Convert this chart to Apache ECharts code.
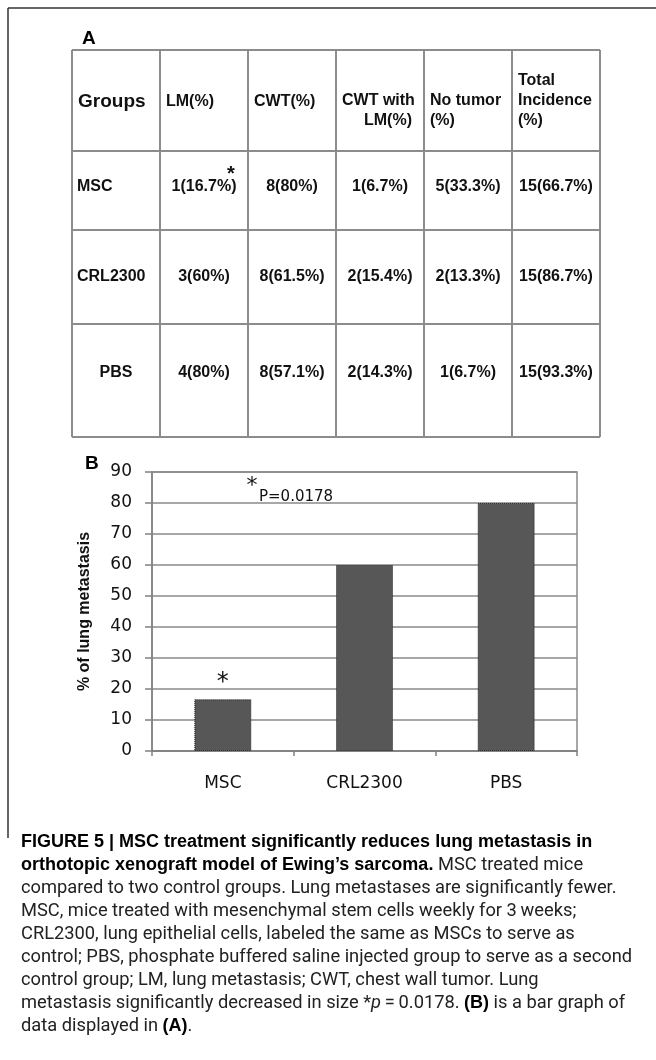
<!DOCTYPE html>
<html>
<head>
<meta charset="utf-8">
<script src="https://cdn.jsdelivr.net/npm/echarts@6/dist/echarts.min.js"></script>
<style>
html,body{margin:0;padding:0;background:#fff;}
#chart{width:656px;height:1060px;}
</style>
</head>
<body>
<div id="chart"></div>
<script>
// ---------- DATA ----------
const tableHeaders = [['Groups'], ['LM(%)'], ['CWT(%)'], ['CWT with', 'LM(%)'], ['No tumor', '(%)'], ['Total', 'Incidence', '(%)']];
const groups = ['MSC', 'CRL2300', 'PBS'];
const lmCol = ['1(16.7%)', '3(60%)', '4(80%)'];
const cwtCol = ['8(80%)', '8(61.5%)', '8(57.1%)'];
const cwtWithLmCol = ['1(6.7%)', '2(15.4%)', '2(14.3%)'];
const noTumorCol = ['5(33.3%)', '2(13.3%)', '1(6.7%)'];
const totalIncidenceCol = ['15(66.7%)', '15(86.7%)', '15(93.3%)'];
const lungMetastasisPct = [16.7, 60, 80];
const yAxisTitle = '% of lung metastasis';
const pValueText = 'P=0.0178';
const captionLines = [
  '{b|FIGURE 5 | MSC treatment significantly reduces lung metastasis in}',
  '{b|orthotopic xenograft model of Ewing\u2019s sarcoma.} MSC treated mice',
  'compared to two control groups. Lung metastases are significantly fewer.',
  'MSC, mice treated with mesenchymal stem cells weekly for 3\u2009weeks;',
  'CRL2300, lung epithelial cells, labeled the same as MSCs to serve as',
  'control; PBS, phosphate buffered saline injected group to serve as a second',
  'control group; LM, lung metastasis; CWT, chest wall tumor. Lung',
  'metastasis significantly decreased in size *{i|p}\u2009=\u20090.0178. {b|(B)} is a bar graph of',
  'data displayed in {b|(A)}.'
];

// ---------- LAYOUT ----------
const colX = [72, 160, 248, 336, 424, 512, 600];
const rowY = [50, 151, 230, 324, 437];
const headerLineY = {1: [102], 2: [101, 121], 3: [81, 101, 121]};
const rowTextY = [187, 277, 373];
const tableFont = 'bold 16px "Liberation Sans", Arial, sans-serif';
const lineColor = '#8c8c8c';

const graphics = [];
// outer frame
graphics.push({type: 'line', shape: {x1: 8, y1: 8, x2: 656, y2: 8}, style: {stroke: '#333', lineWidth: 1.5}});
graphics.push({type: 'line', shape: {x1: 8, y1: 8, x2: 8, y2: 838}, style: {stroke: '#333', lineWidth: 1.5}});
// panel letters
graphics.push({type: 'text', x: 82, y: 29, style: {text: 'A', font: 'bold 19px "Liberation Sans", Arial', fill: '#000'}});
graphics.push({type: 'text', x: 85, y: 454, style: {text: 'B', font: 'bold 19px "Liberation Sans", Arial', fill: '#000'}});
// table grid
colX.forEach(x => graphics.push({type: 'line', shape: {x1: x, y1: rowY[0], x2: x, y2: rowY[rowY.length - 1]}, style: {stroke: lineColor, lineWidth: 2}}));
rowY.forEach(y => graphics.push({type: 'line', shape: {x1: colX[0], y1: y, x2: colX[colX.length - 1], y2: y}, style: {stroke: lineColor, lineWidth: 2}}));
// header
tableHeaders.forEach((lines, c) => {
  const ys = headerLineY[lines.length];
  lines.forEach((t, k) => {
    let x = colX[c] + 6;
    if (c === 3 && k === 1) x = 364;
    graphics.push({type: 'text', x: x, y: ys[k], style: {text: t, font: c === 0 ? 'bold 19px "Liberation Sans", Arial' : tableFont, fill: '#111', verticalAlign: 'middle', align: 'left'}});
  });
});
// body
const bodyCols = [lmCol, cwtCol, cwtWithLmCol, noTumorCol, totalIncidenceCol];
groups.forEach((g, r) => {
  const centered = (g === 'PBS');
  graphics.push({type: 'text', x: centered ? (colX[0] + colX[1]) / 2 : colX[0] + 5, y: rowTextY[r],
    style: {text: g, font: tableFont, fill: '#111', verticalAlign: 'middle', align: centered ? 'center' : 'left'}});
  bodyCols.forEach((col, c) => {
    graphics.push({type: 'text', x: (colX[c + 1] + colX[c + 2]) / 2, y: rowTextY[r],
      style: {text: col[r], font: tableFont, fill: '#111', verticalAlign: 'middle', align: 'center'}});
  });
});
// significance asterisk in table
graphics.push({type: 'text', x: 231, y: 174, style: {text: '*', font: 'bold 20px "Liberation Sans", Arial', fill: '#111', align: 'center', verticalAlign: 'middle'}});
// p-value annotation
graphics.push({type: 'text', x: 252, y: 486, style: {text: '*', font: '22px "DejaVu Sans"', fill: '#111', align: 'center', verticalAlign: 'middle'}});
graphics.push({type: 'text', x: 259, y: 497, style: {text: pValueText, font: '15px "DejaVu Sans"', fill: '#111', align: 'left', verticalAlign: 'middle'}});
// caption
graphics.push({type: 'text', x: 21, y: 831, style: {
  text: captionLines.join('\n'),
  font: '18.3px Roboto', fill: '#222', lineHeight: 23,
  rich: {
    b: {fontWeight: 'bold', fill: '#000', fontSize: 18, fontFamily: 'Liberation Sans', lineHeight: 23},
    i: {fontStyle: 'italic', fill: '#222', fontSize: 18.3, fontFamily: 'Roboto', lineHeight: 23}
  }
}});

const chart = echarts.init(document.getElementById('chart'), null, {renderer: 'canvas'});
chart.setOption({
  animation: false,
  backgroundColor: '#fff',
  grid: {left: 152, right: 79, top: 472, bottom: 309, show: true, borderColor: '#8a8a8a', borderWidth: 1.5, containLabel: false},
  xAxis: {
    type: 'category', data: groups,
    axisLine: {lineStyle: {color: '#808080', width: 1.5}},
    axisTick: {show: true, length: 5, lineStyle: {color: '#808080', width: 1.5}},
    axisLabel: {margin: 24, color: '#111', fontFamily: 'DejaVu Sans', fontSize: 17}
  },
  yAxis: {
    type: 'value', min: 0, max: 90, interval: 10,
    name: yAxisTitle, nameLocation: 'middle', nameRotate: 90, nameGap: 59,
    nameTextStyle: {fontFamily: 'Liberation Sans', fontWeight: 'bold', fontSize: 16, color: '#111'},
    axisLine: {show: true, lineStyle: {color: '#808080', width: 1.5}},
    axisTick: {show: true, length: 7, lineStyle: {color: '#808080', width: 1.5}},
    splitLine: {lineStyle: {color: '#8a8a8a', width: 1.5}},
    axisLabel: {margin: 20, color: '#111', fontFamily: 'DejaVu Sans', fontSize: 17}
  },
  series: [{
    type: 'bar', barWidth: 57,
    data: lungMetastasisPct.map((v, i) => i === 0 ? {value: v, label: {show: true, position: 'top', distance: 4, formatter: '*', fontSize: 24, color: '#111', fontFamily: 'DejaVu Sans'}} : v),
    itemStyle: {color: '#575757', borderColor: '#222', borderWidth: 1, borderType: 'dotted'}
  }],
  graphic: graphics
});
</script>
</body>
</html>
